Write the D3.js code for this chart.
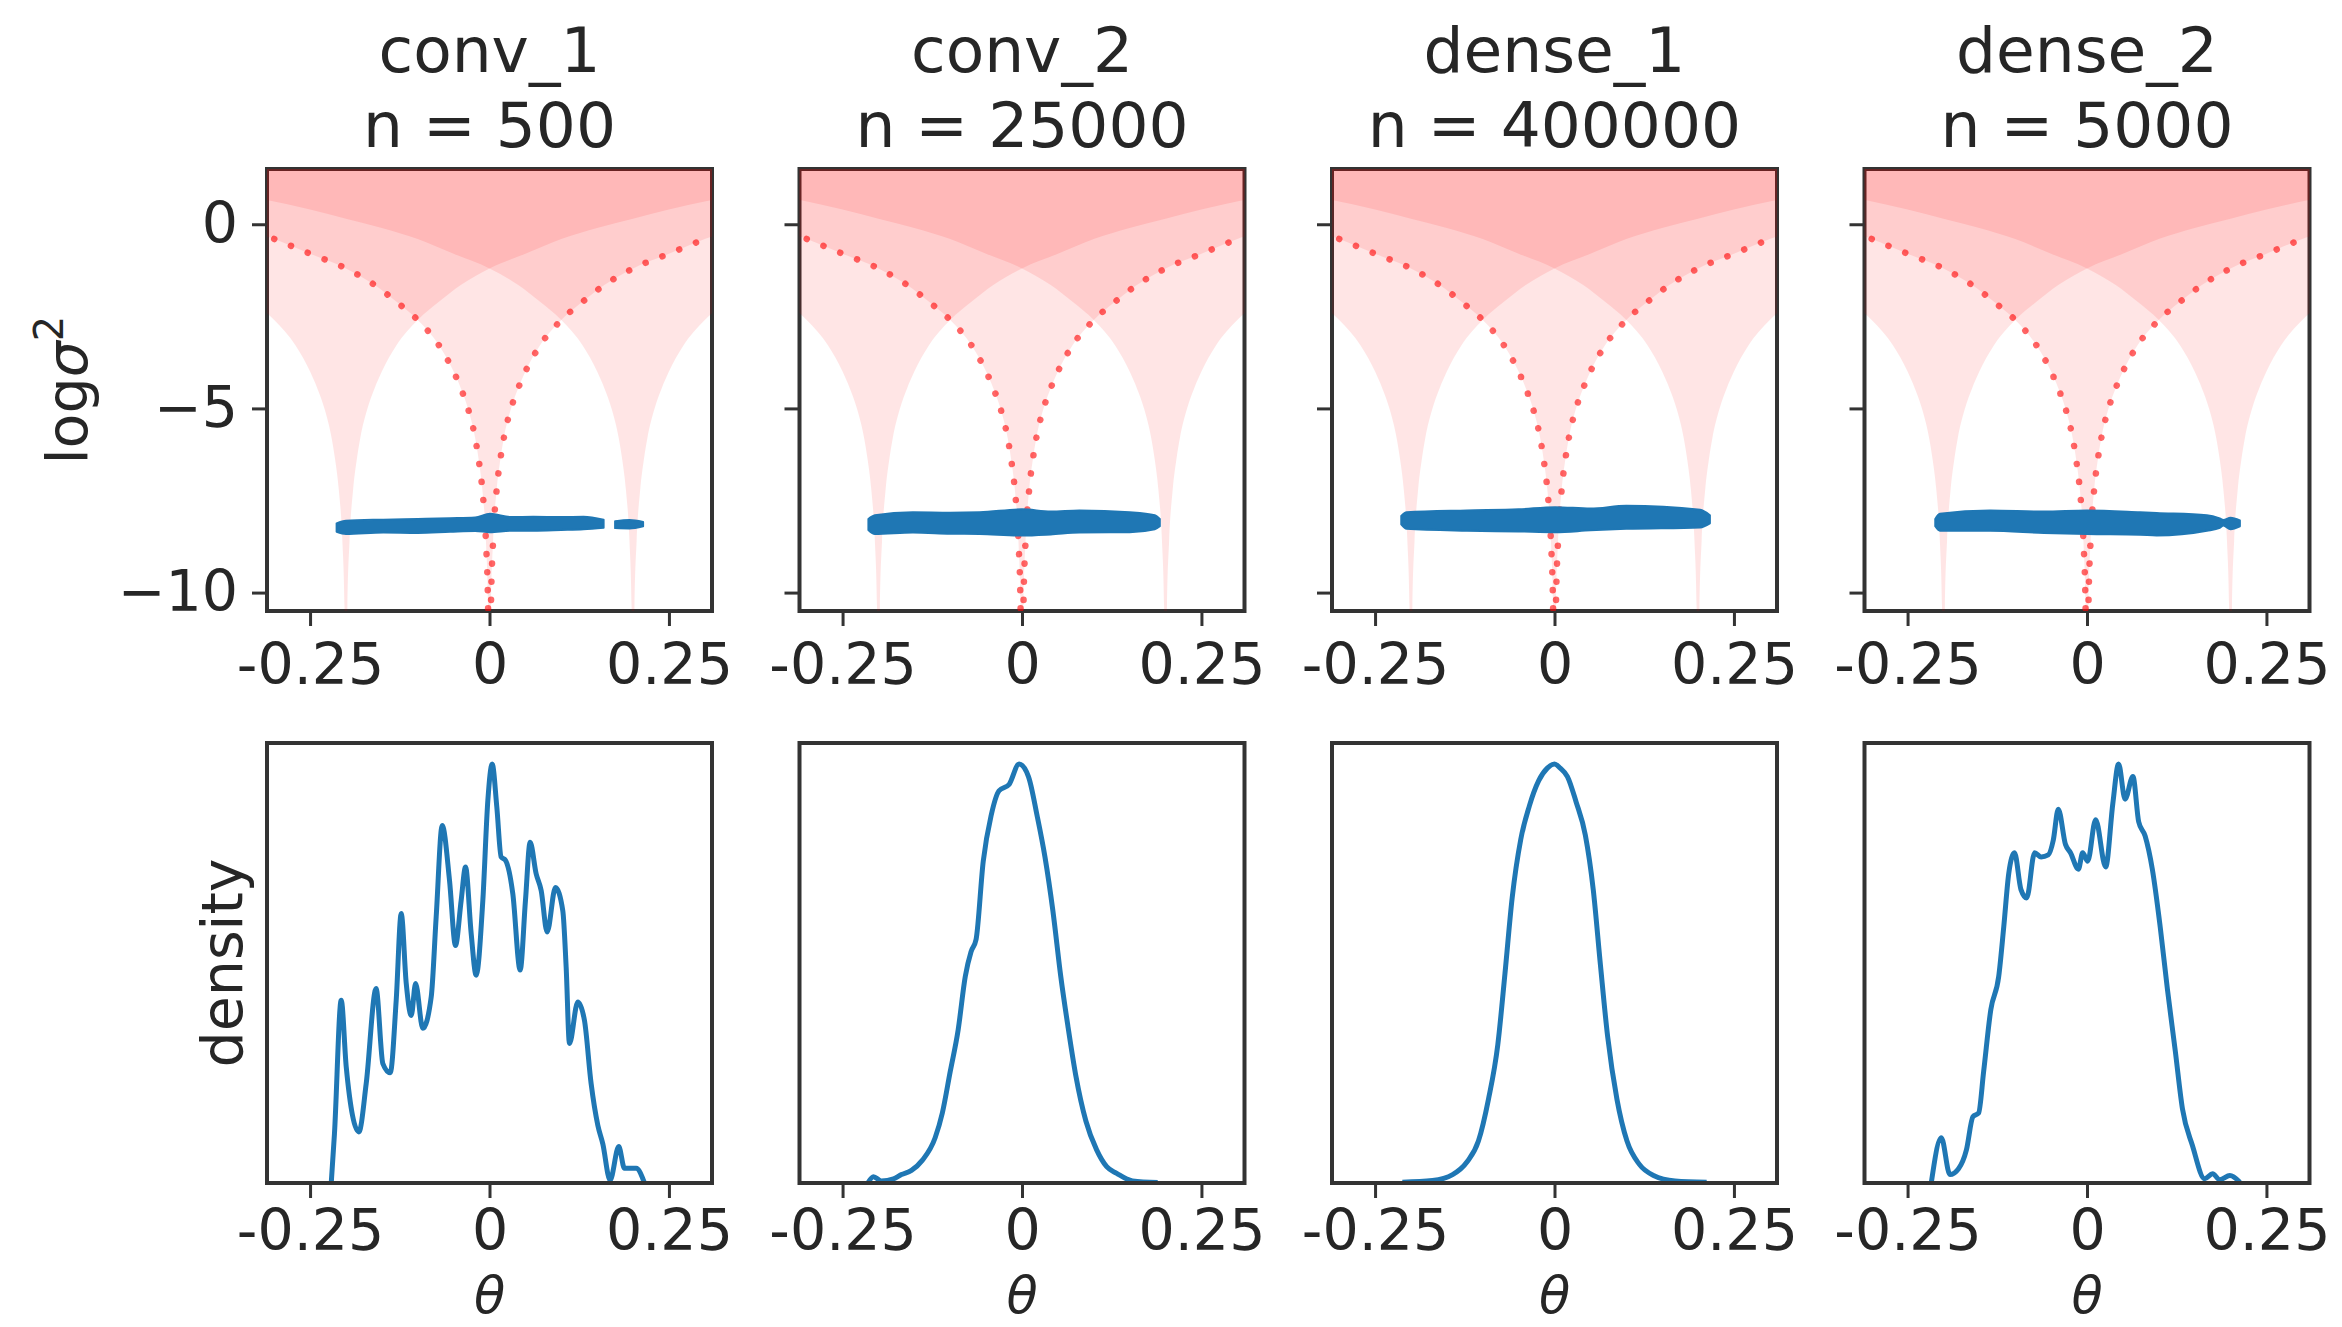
<!DOCTYPE html>
<html>
<head>
<meta charset="utf-8">
<script src="https://cdn.jsdelivr.net/npm/d3@7"></script>
<style>
  body { margin: 0; background: #fff; }
  text { font-family: "DejaVu Sans", sans-serif; fill: #262626; }
</style>
</head>
<body>
<svg id="chart" width="2342" height="1327"></svg>
<script>
const layerNames = ["conv_1", "conv_2", "dense_1", "dense_2"];
const layerSizes = [500, 25000, 400000, 5000];
const thetaTicks = [-0.25, 0, 0.25];
const thetaTickLabels = ["-0.25", "0", "0.25"];
const logVarTicks = [0, -5, -10];
const clusterCentres = [-0.2, 0, 0.2];

// edge of the shaded region: distance from a centre -> log sigma^2
const edgeDistance = [0, 0.002, 0.005, 0.01, 0.015, 0.02, 0.03, 0.04, 0.05, 0.07, 0.1, 0.13, 0.16, 0.2, 0.25, 0.3, 0.35, 0.4, 0.45, 0.52];
const edgeLogVar = [-14, -10.4, -8.6, -7.2, -6.4, -5.8, -5.0, -4.45, -4.0, -3.3, -2.6, -2.1, -1.65, -1.2, -0.8, -0.4, -0.1, 0.15, 0.4, 0.7];
const dottedReach = 0.3;

// blue scatter bands (theta, upper and lower edge of the cloud)
const bandTheta = [
    [-0.213, -0.2, -0.148, -0.1, -0.055, -0.02, 0.0007, 0.03, 0.061, 0.1, 0.131, 0.159, NaN, 0.175, 0.195, 0.214],
    [-0.214, -0.205, -0.152, -0.1, -0.059, 0, 0.04, 0.08, 0.15, 0.185, 0.192],
    [-0.2135, -0.206, -0.122, -0.05, 0.001, 0.05, 0.1, 0.203, 0.2165],
    [-0.2114, -0.205, -0.135, -0.06, 0, 0.074, 0.097, 0.167, 0.185, 0.19, 0.2, 0.213]
];
const bandTop = [
    [-8.12, -8.05, -8.02, -8.0, -7.98, -7.96, -7.86, -7.95, -7.94, -7.95, -7.94, -8.02, NaN, -8.06, -8.03, -8.08],
    [-8.0, -7.9, -7.82, -7.83, -7.82, -7.74, -7.8, -7.77, -7.82, -7.9, -8.0],
    [-7.92, -7.82, -7.77, -7.74, -7.68, -7.72, -7.64, -7.75, -7.9],
    [-8.0, -7.86, -7.77, -7.8, -7.77, -7.82, -7.84, -7.9, -7.99, -8.03, -7.97, -8.04]
];
const bandBottom = [
    [-8.35, -8.41, -8.37, -8.38, -8.35, -8.33, -8.36, -8.32, -8.32, -8.3, -8.28, -8.24, NaN, -8.25, -8.26, -8.2],
    [-8.3, -8.41, -8.37, -8.4, -8.41, -8.45, -8.42, -8.37, -8.36, -8.28, -8.2],
    [-8.15, -8.27, -8.32, -8.34, -8.36, -8.31, -8.27, -8.23, -8.12],
    [-8.2, -8.32, -8.32, -8.38, -8.41, -8.43, -8.45, -8.32, -8.24, -8.18, -8.28, -8.2]
];

// density curves (relative height, peak = 1)
const densityTheta = [
    [-0.2205, -0.216, -0.2066, -0.1996, -0.182, -0.1718, -0.158, -0.1486, -0.1383, -0.13, -0.123, -0.116, -0.109, -0.103, -0.0929, -0.0812, -0.0743, -0.0659, -0.0557, -0.0474, -0.0395, -0.0334, -0.0255, -0.0186, -0.0093, -0.0023, 0.0037, 0.0102, 0.0162, 0.0223, 0.0325, 0.0427, 0.0501, 0.0566, 0.065, 0.072, 0.0803, 0.0919, 0.1021, 0.1068, 0.1114, 0.123, 0.1323, 0.1416, 0.1509, 0.1578, 0.168, 0.1801, 0.188, 0.2043, 0.2159],
    [-0.214, -0.207, -0.196, -0.179, -0.168, -0.154, -0.139, -0.121, -0.111, -0.1, -0.089, -0.079, -0.071, -0.064, -0.054, -0.043, -0.032, -0.018, -0.004, 0.009, 0.021, 0.032, 0.043, 0.054, 0.064, 0.075, 0.089, 0.104, 0.118, 0.132, 0.154, 0.189],
    [-0.212, -0.17, -0.142, -0.122, -0.106, -0.092, -0.079, -0.069, -0.059, -0.047, -0.035, -0.022, -0.01, 0, 0.008, 0.018, 0.03, 0.043, 0.054, 0.064, 0.074, 0.087, 0.101, 0.118, 0.138, 0.168, 0.212],
    [-0.217, -0.203, -0.191, -0.179, -0.168, -0.159, -0.151, -0.144, -0.134, -0.123, -0.116, -0.109, -0.101, -0.092, -0.084, -0.073, -0.064, -0.054, -0.047, -0.04, -0.03, -0.023, -0.012, -0.006, 0.001, 0.012, 0.026, 0.036, 0.044, 0.053, 0.064, 0.072, 0.081, 0.091, 0.102, 0.112, 0.123, 0.133, 0.147, 0.164, 0.175, 0.185, 0.199, 0.213]
];
const densityValue = [
    [0, 0.118, 0.436, 0.277, 0.122, 0.237, 0.464, 0.285, 0.263, 0.436, 0.643, 0.476, 0.40, 0.476, 0.369, 0.444, 0.635, 0.853, 0.722, 0.567, 0.674, 0.754, 0.595, 0.496, 0.674, 0.913, 1.0, 0.897, 0.778, 0.77, 0.69, 0.508, 0.674, 0.813, 0.738, 0.698, 0.599, 0.705, 0.65, 0.515, 0.333, 0.432, 0.388, 0.237, 0.138, 0.094, 0.007, 0.087, 0.035, 0.035, 0],
    [0.002, 0.015, 0.005, 0.01, 0.02, 0.03, 0.054, 0.108, 0.167, 0.266, 0.365, 0.493, 0.552, 0.581, 0.768, 0.877, 0.936, 0.951, 1.0, 0.97, 0.877, 0.778, 0.65, 0.493, 0.374, 0.256, 0.148, 0.079, 0.039, 0.023, 0.005, 0.001],
    [0.002, 0.006, 0.02, 0.05, 0.1, 0.2, 0.33, 0.5, 0.68, 0.82, 0.9, 0.96, 0.99, 1.0, 0.99, 0.97, 0.91, 0.83, 0.7, 0.52, 0.35, 0.2, 0.1, 0.045, 0.018, 0.005, 0.002],
    [0, 0.108, 0.02, 0.034, 0.079, 0.158, 0.167, 0.266, 0.414, 0.493, 0.611, 0.739, 0.788, 0.7, 0.68, 0.788, 0.778, 0.783, 0.818, 0.892, 0.808, 0.788, 0.749, 0.788, 0.768, 0.867, 0.754, 0.906, 1.0, 0.916, 0.97, 0.862, 0.828, 0.749, 0.611, 0.463, 0.315, 0.177, 0.089, 0.01, 0.022, 0.008, 0.018, 0.002]
];

const svg = d3.select("#chart");
const blue = "#1f77b4";
const axisColor = "#333";
const tickFont = 57;

const panelLeft = 267;
const panelStep = 532.5;
const panelWidth = 445;
const topY = 169, topH = 442;
const botY = 743, botH = 440;

const defs = svg.append("defs");

const fmtLogVar = d => d < 0 ? "\u2212" + Math.abs(d) : String(d);

const styleAxis = (g, showText) => {
    g.select(".domain").remove();
    g.selectAll(".tick line").attr("stroke", axisColor).attr("stroke-width", 3);
    g.selectAll(".tick text")
        .attr("font-family", "DejaVu Sans")
        .attr("font-size", tickFont)
        .attr("fill", "#262626")
        .style("display", showText ? null : "none");
};

layerNames.forEach((name, i) => {
    const x0 = panelLeft + i * panelStep;
    const x = d3.scaleLinear().domain([-0.31, 0.31]).range([x0, x0 + panelWidth]);
    const yVar = d3.scaleLinear().domain([-10.5, 1.5]).range([topY + topH, topY]);
    const yDen = d3.scaleLinear().domain([0, 1.05]).range([botY + botH, botY]);

    // titles
    svg.append("text")
        .attr("x", x0 + panelWidth / 2)
        .attr("y", 72)
        .attr("text-anchor", "middle")
        .attr("font-size", 63)
        .text(name);
    svg.append("text")
        .attr("x", x0 + panelWidth / 2)
        .attr("y", 147)
        .attr("text-anchor", "middle")
        .attr("font-size", 63)
        .text("n = " + layerSizes[i]);

    // ---- top panel ----
    svg.append("rect")
        .attr("x", x0)
        .attr("y", topY)
        .attr("width", panelWidth)
        .attr("height", topH)
        .attr("fill", "#fff")
        .attr("stroke", axisColor)
        .attr("stroke-width", 4);

    const clipId = "clip" + i;
    defs.append("clipPath").attr("id", clipId)
        .append("rect")
        .attr("x", x0)
        .attr("y", topY)
        .attr("width", panelWidth)
        .attr("height", topH);

    const inner = svg.append("g").attr("clip-path", "url(#" + clipId + ")");

    const shade = d3.area()
        .x(d => x(d[0]))
        .y0(yVar(1.5) - 5)
        .y1(d => yVar(d[1]))
        .curve(d3.curveMonotoneX);

    clusterCentres.forEach(c => {
        const pts = [];
        for (let k = edgeDistance.length - 1; k > 0; k--) pts.push([c - edgeDistance[k], edgeLogVar[k]]);
        for (let k = 0; k < edgeDistance.length; k++) pts.push([c + edgeDistance[k], edgeLogVar[k]]);
        inner.append("path")
            .attr("d", shade(pts))
            .attr("fill", "#ff0000")
            .attr("fill-opacity", 0.1);
    });

    const dotted = [];
    for (let k = edgeDistance.length - 1; k > 0; k--) {
        if (edgeDistance[k] <= dottedReach) dotted.push([-edgeDistance[k], edgeLogVar[k]]);
    }
    for (let k = 0; k < edgeDistance.length; k++) {
        if (edgeDistance[k] <= dottedReach) dotted.push([edgeDistance[k], edgeLogVar[k]]);
    }
    inner.append("path")
        .attr("d", d3.line().x(d => x(d[0])).y(d => yVar(d[1])).curve(d3.curveMonotoneX)(dotted))
        .attr("fill", "none")
        .attr("stroke", "#ff0000")
        .attr("stroke-opacity", 0.6)
        .attr("stroke-width", 6.5)
        .attr("stroke-linecap", "round")
        .attr("stroke-dasharray", "0.1 18");

    const band = bandTheta[i].map((t, k) => ({ t: t, hi: bandTop[i][k], lo: bandBottom[i][k] }));
    inner.append("path")
        .attr("d", d3.area()
            .defined(d => !isNaN(d.t))
            .x(d => x(d.t))
            .y0(d => yVar(d.lo))
            .y1(d => yVar(d.hi))
            .curve(d3.curveMonotoneX)(band))
        .attr("fill", blue)
        .attr("stroke", blue)
        .attr("stroke-width", 2)
        .attr("stroke-linejoin", "round");

    const xTop = svg.append("g")
        .attr("transform", "translate(0," + (topY + topH) + ")")
        .call(d3.axisBottom(x).tickValues(thetaTicks).tickFormat((d, j) => thetaTickLabels[j]).tickSize(15).tickPadding(18));
    styleAxis(xTop, true);

    const yTop = svg.append("g")
        .attr("transform", "translate(" + x0 + ",0)")
        .call(d3.axisLeft(yVar).tickValues(logVarTicks).tickFormat(fmtLogVar).tickSize(15).tickPadding(14));
    styleAxis(yTop, i === 0);

    // ---- bottom panel ----
    const dens = densityTheta[i].map((t, k) => [t, densityValue[i][k]]);
    svg.append("path")
        .attr("d", d3.line().x(d => x(d[0])).y(d => yDen(d[1])).curve(d3.curveMonotoneX)(dens))
        .attr("fill", "none")
        .attr("stroke", blue)
        .attr("stroke-width", 5)
        .attr("stroke-linejoin", "round");

    svg.append("rect")
        .attr("x", x0)
        .attr("y", botY)
        .attr("width", panelWidth)
        .attr("height", botH)
        .attr("fill", "none")
        .attr("stroke", axisColor)
        .attr("stroke-width", 4);

    const xBot = svg.append("g")
        .attr("transform", "translate(0," + (botY + botH) + ")")
        .call(d3.axisBottom(x).tickValues(thetaTicks).tickFormat((d, j) => thetaTickLabels[j]).tickSize(15).tickPadding(12));
    styleAxis(xBot, true);

    svg.append("text")
        .attr("x", x0 + panelWidth / 2)
        .attr("y", 1313)
        .attr("text-anchor", "middle")
        .attr("font-size", 51)
        .attr("font-style", "italic")
        .text("\u03b8");
});

// y labels
const yLab = svg.append("text")
    .attr("transform", "translate(87," + (topY + topH / 2) + ") rotate(-90)")
    .attr("text-anchor", "middle")
    .attr("font-size", 57);
yLab.append("tspan").text("log");
yLab.append("tspan").attr("font-style", "italic").text("\u03c3");
yLab.append("tspan").attr("font-size", 40).attr("dy", -24).text("2");

svg.append("text")
    .attr("transform", "translate(242," + (botY + botH / 2) + ") rotate(-90)")
    .attr("text-anchor", "middle")
    .attr("font-size", 57)
    .text("density");
</script>
</body>
</html>
